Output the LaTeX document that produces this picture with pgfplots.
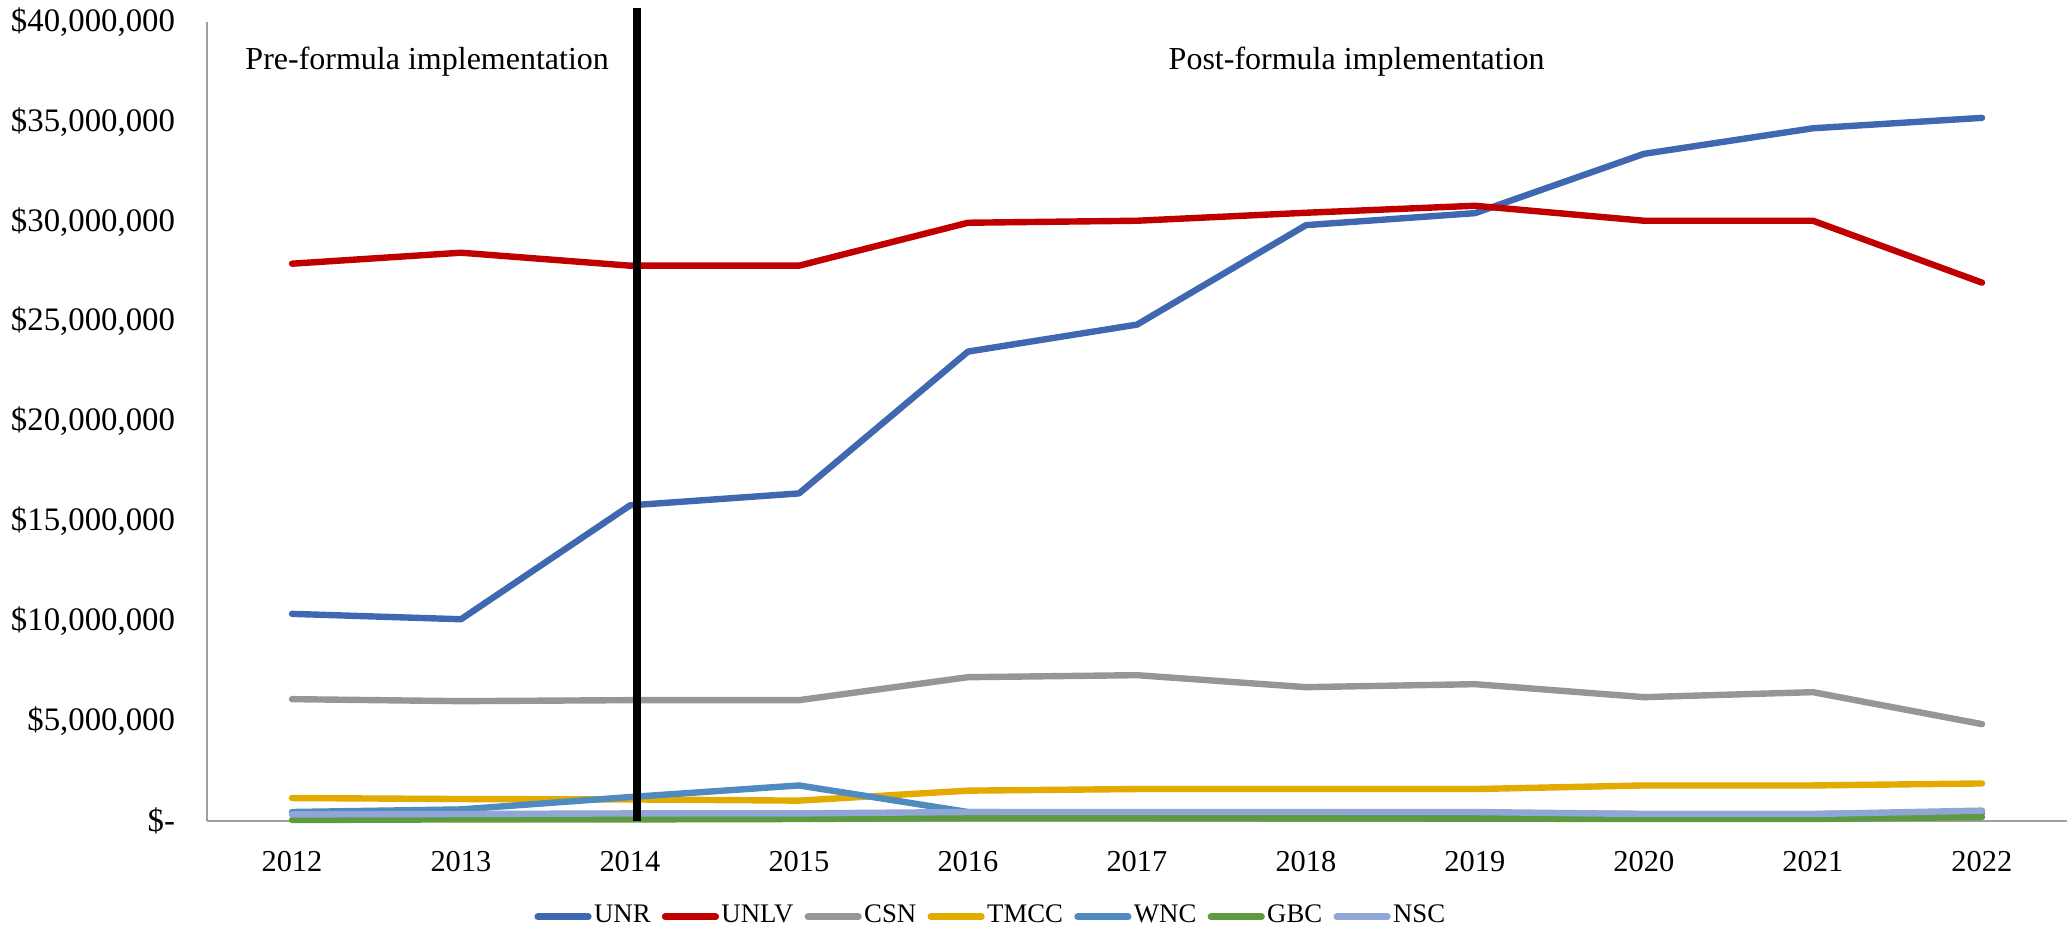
\documentclass[border=0pt]{standalone}
\usepackage{fontspec}
\setmainfont{Liberation Serif}
\usepackage{pgfplots}
\pgfplotsset{compat=1.18}

\definecolor{cUNR}{HTML}{4068B0}
\definecolor{cUNLV}{HTML}{C00000}
\definecolor{cCSN}{HTML}{969696}
\definecolor{cTMCC}{HTML}{E3AB00}
\definecolor{cWNC}{HTML}{4F8BBF}
\definecolor{cGBC}{HTML}{5E9A3F}
\definecolor{cNSC}{HTML}{8FA6D6}

\begin{document}
\begin{tikzpicture}
\useasboundingbox (-51.875pt,-27.25pt) rectangle (466.125pt,205.25pt);
\begin{axis}[
  at={(0pt,0pt)}, anchor=south west,
  scale only axis,
  width=464.75pt, height=199.75pt,
  xmin=2011.5, xmax=2022.5,
  ymin=0, ymax=40000000,
  axis x line=bottom, axis y line=left,
  axis line style={draw=gray!75, line width=0.5pt, -},
  major tick length=0pt,
  xtick={2012,...,2022},
  xticklabels={2012,2013,2014,2015,2016,2017,2018,2019,2020,2021,2022},
  ytick={0,5000000,10000000,15000000,20000000,25000000,30000000,35000000,40000000},
  yticklabels={{\$-\hspace{3.8pt}},{\$5,000,000},{\$10,000,000},{\$15,000,000},{\$20,000,000},{\$25,000,000},{\$30,000,000},{\$35,000,000},{\$40,000,000}},
  xticklabel style={yshift=-4pt, font=\fontsize{7.6}{9}\selectfont},
  yticklabel style={xshift=-4.6pt, font=\fontsize{8.2}{10}\selectfont, inner ysep=0pt},
  clip=false,
  every axis plot/.append style={line width=1.6pt, line join=round, line cap=round},
  legend columns=-1,
  legend style={draw=none, at={(0.4215,-0.12)}, anchor=center,
    inner xsep=0pt,
    font=\fontsize{6.7}{8}\selectfont,
    /tikz/every even column/.append style={column sep=2.2pt},
    nodes={inner xsep=0.6pt}},
  legend image code/.code={\draw[#1, line width=1.7pt] (0pt,0pt) -- (12.6pt,0pt);},
]
\addplot[cUNR] coordinates {(2012,10370000) (2013,10100000) (2014,15800000) (2015,16400000) (2016,23500000) (2017,24850000) (2018,29830000) (2019,30430000) (2020,33400000) (2021,34680000) (2022,35200000)};
\addlegendentry{UNR}
\addplot[cUNLV] coordinates {(2012,27900000) (2013,28450000) (2014,27800000) (2015,27800000) (2016,29950000) (2017,30050000) (2018,30450000) (2019,30800000) (2020,30050000) (2021,30050000) (2022,26950000)};
\addlegendentry{UNLV}
\addplot[cCSN] coordinates {(2012,6100000) (2013,6000000) (2014,6050000) (2015,6050000) (2016,7200000) (2017,7300000) (2018,6700000) (2019,6850000) (2020,6200000) (2021,6450000) (2022,4850000)};
\addlegendentry{CSN}
\addplot[cTMCC] coordinates {(2012,1150000) (2013,1100000) (2014,1080000) (2015,1020000) (2016,1520000) (2017,1600000) (2018,1600000) (2019,1600000) (2020,1780000) (2021,1780000) (2022,1880000)};
\addlegendentry{TMCC}
\addplot[cWNC] coordinates {(2012,450000) (2013,580000) (2014,1200000) (2015,1780000) (2016,450000) (2017,400000) (2018,400000) (2019,400000) (2020,350000) (2021,350000) (2022,400000)};
\addlegendentry{WNC}
\addplot[cGBC] coordinates {(2012,50000) (2013,80000) (2014,80000) (2015,100000) (2016,150000) (2017,150000) (2018,130000) (2019,120000) (2020,100000) (2021,100000) (2022,200000)};
\addlegendentry{GBC}
\addplot[cNSC] coordinates {(2012,330000) (2013,350000) (2014,380000) (2015,380000) (2016,450000) (2017,450000) (2018,450000) (2019,450000) (2020,350000) (2021,350000) (2022,520000)};
\addlegendentry{NSC}
\addplot[black, line width=1.9pt, line cap=butt, forget plot] coordinates {(2014.04,0) (2014.04,40700000)};
\node[font=\fontsize{8}{10}\selectfont] at (axis cs:2012.80,38000000) {Pre-formula implementation};
\node[font=\fontsize{8}{10}\selectfont] at (axis cs:2018.30,38000000) {Post-formula implementation};
\end{axis}
\end{tikzpicture}
\end{document}
